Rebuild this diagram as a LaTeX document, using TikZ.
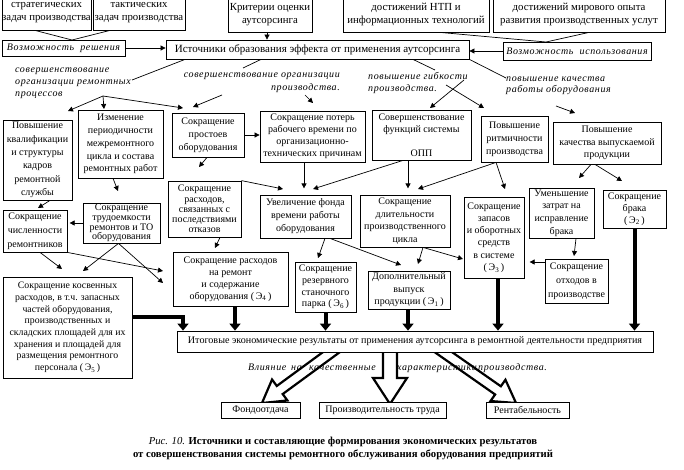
\documentclass[tikz,border=0pt]{standalone}
\usepackage{fontspec}
\setmainfont{Liberation Serif}
\newfontfamily\itl[LetterSpace=6]{Liberation Serif}
\usetikzlibrary{arrows.meta,calc}
\begin{document}
\begin{tikzpicture}[x=1pt,y=-1pt,
 bx/.style={draw, line width=0.8pt, align=center, inner sep=0pt, font=\fontsize{10}{12}\selectfont},
 fs/.style={font=\fontsize{10}{#1}\selectfont},
 fb/.style={font=\fontsize{10.8}{#1}\selectfont},
 ar/.style={line width=0.7pt, -{Triangle[length=5pt,width=5pt]}},
 ln/.style={line width=0.7pt},
 thk/.style={line width=4pt, -{Triangle[length=7pt,width=11pt]}},
 lab/.style={inner sep=0pt, font=\itl\itshape\fontsize{10}{12}\selectfont},
 blk/.style={draw, fill=white, line width=2.2pt, line join=miter}]
\useasboundingbox (0,0) rectangle (684,469);
\fill[white] (0,0) rectangle (684,469);

% top row
\node[bx, fb=13, minimum width=89pt, minimum height=34pt] (b1) at (46.5,13) {стратегических\\задач производства};
\node[bx, fb=13, minimum width=92pt, minimum height=34pt] (b2) at (139,13) {тактических\\задач производства};
\node[bx, fb=13, minimum width=84pt, minimum height=35pt] (b3) at (270,14.5) {Критерии оценки\\аутсорсинга};
\node[bx, fb=13, minimum width=146pt, minimum height=35pt] (b4) at (416,14.5) {достижений НТП и\\информационных технологий};
\node[bx, fb=13, minimum width=172pt, minimum height=35pt] (b5) at (579,14.5) {достижений мирового опыта\\развития производственных услут};

\node[bx, font=\itl\itshape\fontsize{10}{12}\selectfont, minimum width=123pt, minimum height=16pt] (b6) at (63.5,48) {Возможность\ \ решения};
\node[bx, font=\fontsize{11}{12}\selectfont, minimum width=303pt, minimum height=19pt] (b7) at (317.5,49.5) {Источники образования эффекта от применения аутсорсинга};
\node[bx, font=\itl\itshape\fontsize{10}{12}\selectfont, minimum width=148pt, minimum height=18pt] (b8) at (577,51) {Возможность\ \ использования};

% italic labels
\node[lab, align=left, anchor=west] (L1) at (15,83) {совершенствование\\организации ремонтных\\процессов};
\node[lab, font=\itl\itshape\fontsize{10}{13}\selectfont, align=right, anchor=east] (L2) at (340,82.5) {совершенствование организации\\производства.};
\node[lab, align=left, anchor=west] (L3) at (368,83) {повышение гибкости\\производства.};
\node[lab, font=\itl\itshape\fontsize{10}{11}\selectfont, align=left, anchor=west] (L4) at (506,85.5) {повышение качества\\работы оборудования};

% row 3
\node[bx, fs=13.3, minimum width=69pt, minimum height=80pt] (b9) at (37.5,160) {Повышение\\квалификации\\и структуры\\кадров\\ремонтной\\службы};
\node[bx, fs=12.8, minimum width=85pt, minimum height=68pt] (b10) at (120.5,144) {Изменение\\периодичности\\межремонтного\\цикла и состава\\ремонтных работ};
\node[bx, fs=13, minimum width=72pt, minimum height=44pt] (b11) at (208,135) {Сокращение\\простоев\\оборудования};
\node[bx, fs=12, minimum width=105pt, minimum height=51pt] (b12) at (312.5,136.5) {Сокращение потерь\\рабочего времени по\\организационно-\\технических причинам};
\node[bx, fs=12, minimum width=99pt, minimum height=50pt] (b13) at (421.5,135) {Совершенствование\\функций системы\\[12pt]ОПП};
\node[bx, fs=13, minimum width=67pt, minimum height=46pt] (b14) at (514.5,139) {Повышение\\ритмичности\\производства};
\node[bx, fs=12.5, minimum width=108pt, minimum height=42pt] (b15) at (607,143) {Повышение\\качества выпускаемой\\продукции};

% row 4
\node[bx, fs=10.2, minimum width=73pt, minimum height=56pt] (b16) at (204.5,209) {Сокращение\\расходов,\\связанных с\\последствиями\\отказов};
\node[bx, fs=9.6, minimum width=77pt, minimum height=40pt] (b17) at (121.5,223) {Сокращение\\трудоемкости\\ремонтов и ТО\\оборудования};
\node[bx, fs=14, minimum width=64pt, minimum height=42pt] (b18) at (35,231) {Сокращение\\численности\\ремонтников};
\node[bx, fs=13, minimum width=91pt, minimum height=43pt] (b19) at (305.5,216.5) {Увеличение фонда\\времени работы\\оборудования};
\node[bx, fs=12.7, minimum width=90pt, minimum height=52pt] (b20) at (405,221) {Сокращение\\длительности\\производственного\\цикла};
\node[bx, fs=12.3, minimum width=60pt, minimum height=81pt] (b21) at (494,237.5) {Сокращение\\запасов\\и оборотных\\средств\\в системе\\(\,Э\textsubscript{3}\,)};
\node[bx, fs=12.7, minimum width=65pt, minimum height=50pt] (b22) at (561.5,213) {Уменьшение\\затрат на\\исправление\\брака};
\node[bx, fs=12, minimum width=63pt, minimum height=38pt] (b23) at (634.5,209) {Сокращение\\брака\\(\,Э\textsubscript{2}\,)};
\node[bx, fs=14, minimum width=63pt, minimum height=44pt] (b24) at (576.5,281) {Сокращение\\отходов в\\производстве};

% row 5
\node[bx, fs=12, minimum width=115pt, minimum height=54pt] (b25) at (230.5,279) {Сокращение расходов\\на ремонт\\и содержание\\оборудования (\,Э\textsubscript{4}\,)};
\node[bx, fs=11.8, minimum width=61pt, minimum height=50pt] (b26) at (325.5,287) {Сокращение\\резервного\\станочного\\парка (\,Э\textsubscript{6}\,)};
\node[bx, fs=12.5, minimum width=82pt, minimum height=38pt] (b27) at (409,290) {Дополнительный\\выпуск\\продукции (\,Э\textsubscript{1}\,)};
\node[bx, font=\fontsize{9.8}{11.7}\selectfont, minimum width=129pt, minimum height=101pt] (b28) at (67.5,327.5) {Сокращение косвенных\\расходов, в т.ч. запасных\\частей оборудования,\\производственных и\\складских площадей для их\\хранения и площадей для\\размещения ремонтного\\персонала (\,Э\textsubscript{5}\,)};

% block arrows (drawn before results box)
\draw[blk] (383,348) -- (383,378) -- (373,378) -- (390,404) -- (407,378) -- (397,378) -- (397,348) -- cycle;
\coordinate (lP) at (337,348); \coordinate (lQ) at (262,403);
\coordinate (lB) at ($(lQ)!22pt!(lP)$);
\draw[blk] ($(lP)!5pt!90:(lQ)$) -- ($(lB)!5pt!90:(lQ)$) -- ($(lB)!13pt!90:(lQ)$) -- (lQ) -- ($(lB)!13pt!-90:(lQ)$) -- ($(lB)!5pt!-90:(lQ)$) -- ($(lP)!5pt!-90:(lQ)$) -- cycle;
\coordinate (rP) at (436,347); \coordinate (rQ) at (516,403);
\coordinate (rB) at ($(rQ)!22pt!(rP)$);
\draw[blk] ($(rP)!5pt!90:(rQ)$) -- ($(rB)!5pt!90:(rQ)$) -- ($(rB)!13pt!90:(rQ)$) -- (rQ) -- ($(rB)!13pt!-90:(rQ)$) -- ($(rB)!5pt!-90:(rQ)$) -- ($(rP)!5pt!-90:(rQ)$) -- cycle;

\node[bx, fill=white, font=\fontsize{10.1}{12}\selectfont, minimum width=476pt, minimum height=21pt] (b29) at (415,341.5) {Итоговые экономические результаты от применения аутсорсинга в ремонтной деятельности предприятия};

\node[lab, anchor=west] (L5) at (248,368) {\makebox[43pt][l]{Влияние}\makebox[18pt][l]{на}\makebox[88pt][l]{качественные}\makebox[81pt][l]{характеристики}производства.};

\node[bx, fill=white, minimum width=79pt, minimum height=16pt] (b30) at (260.5,410) {Фондоотдача};
\node[bx, fill=white, minimum width=127pt, minimum height=16pt] (b31) at (382.5,410) {Производительность труда};
\node[bx, fill=white, minimum width=83pt, minimum height=16pt] (b32) at (527.5,410) {Рентабельность};

\node[inner sep=0pt, align=center, font=\fontsize{10.7}{13}\selectfont] (cap) at (343,448.5) {\textit{Рис. 10.} \textbf{Источники и составляющие формирования экономических результатов}\\\textbf{от совершенствования системы ремонтного обслуживания оборудования предприятий}};

% top connectors
\coordinate (J1) at (72,40);
\draw[ln] ([xshift=-11.5pt]b1.south) -- (J1) -- ([xshift=-29pt]b2.south);
\draw[ar] (b6.east) -- (b6.east -| b7.west);
\draw[ar] (b8.west) -- (b8.west -| b7.east);
\coordinate (s3) at ([xshift=-3pt]b3.south);
\draw[ar] (s3) -- (s3 |- b7.north);
\coordinate (J2) at (546,42);
\draw[ln] ([xshift=24pt]b4.south) -- (J2) -- ([xshift=10pt]b5.south);

% label connectors
\coordinate (e1) at (132,80);
\coordinate (e2) at (243,68);
\coordinate (e3) at (435,70);
\coordinate (e4) at (506,78);
\draw[ln] ([xshift=-132.5pt]b7.south) -- (e1);
\draw[ln] ([xshift=-56.5pt]b7.south) -- (e2);
\draw[ln] ([xshift=95.5pt]b7.south) -- (e3);
\draw[ln] (b7.south east) -- (e4);

\coordinate (o1) at (103,96);
\coordinate (t1a) at (68,111); \coordinate (t1b) at (104,109); \coordinate (t1c) at (183,108);
\draw[ar] (o1) -- (t1a);
\draw[ar] (o1) -- (t1b);
\draw[ar] (o1) -- (t1c);
\coordinate (o2a) at (222,95); \coordinate (t2a) at (193,107);
\coordinate (o2b) at (305,95); \coordinate (t2b) at (313,103);
\draw[ar] (o2a) -- (t2a);
\draw[ar] (o2b) -- (t2b);
\coordinate (o3a) at (464,80); \coordinate (t3a) at (430,108);
\coordinate (o3b) at (446,85); \coordinate (t3b) at (484,108);
\draw[ar] (o3a) -- (t3a);
\draw[ar] (o3b) -- (t3b);
\coordinate (o4) at (556,106); \coordinate (t4) at (575,113);
\draw[ar] (o4) -- (t4);

% row connectors
\draw[ar] (b11.east) -- (b11.east -| b12.west);
\coordinate (t5) at (199,167);
\draw[ar] ([xshift=-1pt]b11.south) -- (t5);
\coordinate (t6) at (118,191);
\draw[ar] ([xshift=-7.5pt]b10.south) -- (t6);
\coordinate (t7) at (38,208);
\draw[ar] ([xshift=12.5pt]b9.south) -- (t7);
\draw[ar] (b17.west) -- ++(-13,0);
\draw[ar] ([xshift=-8.5pt]b12.south) -- ++(0,26);
\coordinate (t8) at (283,189);
\draw[ar] (b16.north east) -- (t8);
\coordinate (t9) at (313,189);
\draw[ar] ([xshift=-18.5pt]b13.south) -- (t9);
\draw[ar] ([xshift=-13.5pt]b13.south) -- ++(0,28);
\coordinate (t10) at (418,189);
\coordinate (t11) at (505,189);
\draw[ar] ([xshift=-18.5pt]b14.south) -- (t10);
\draw[ar] ([xshift=-18.5pt]b14.south) -- (t11);
\coordinate (t12) at (579,178);
\coordinate (t13) at (622,181);
\draw[ar] ([xshift=-16pt]b15.south) -- (t12);
\draw[ar] ([xshift=-12pt]b15.south) -- (t13);
\coordinate (t14) at (574,256);
\draw[ar] ([xshift=14.5pt]b22.south) -- (t14);
\draw[ar] ([yshift=19pt]b24.west) -- ++(-15,0);
\coordinate (t15) at (418,264);
\coordinate (t16) at (463,259);
\draw[ar] ([xshift=18pt]b20.south) -- (t15);
\draw[ar] ([xshift=18pt]b20.south) -- (t16);
\coordinate (t17) at (318,258);
\coordinate (t18) at (401,265);
\draw[ar] ([xshift=19.5pt]b19.south) -- (t17);
\draw[ar] ([xshift=24.5pt]b19.south) -- (t18);
\coordinate (t19) at (163,271);
\coordinate (t20) at (62,269);
\draw[ar] (b18.south east) -- (t19);
\draw[ar] ([xshift=5pt]b18.south) -- (t20);
\coordinate (t21) at (83,271);
\coordinate (t22) at (163,283);
\draw[ar] ([xshift=-3pt]b17.south) -- (t21);
\draw[ar] ([xshift=-3pt]b17.south) -- (t22);
\coordinate (t23) at (215,248);
\draw[ar] ([xshift=15.5pt]b16.south) -- (t23);

% thick arrows into results
\coordinate (s25) at ([xshift=4.5pt]b25.south);
\draw[thk] (s25) -- (s25 |- b29.north);
\draw[thk] (b26.south) -- (b26.south |- b29.north);
\coordinate (s27) at ([xshift=-1pt]b27.south);
\draw[thk] (s27) -- (s27 |- b29.north);
\coordinate (s21) at ([xshift=4pt]b21.south);
\draw[thk] (s21) -- (s21 |- b29.north);
\draw[thk] (b23.south) -- (b23.south |- b29.north);
\coordinate (s28) at ([yshift=10.5pt]b28.east);
\coordinate (k28) at ([xshift=-232pt]b29.north);
\draw[thk, line join=miter] (s28) -| (k28);
\end{tikzpicture}
\end{document}
